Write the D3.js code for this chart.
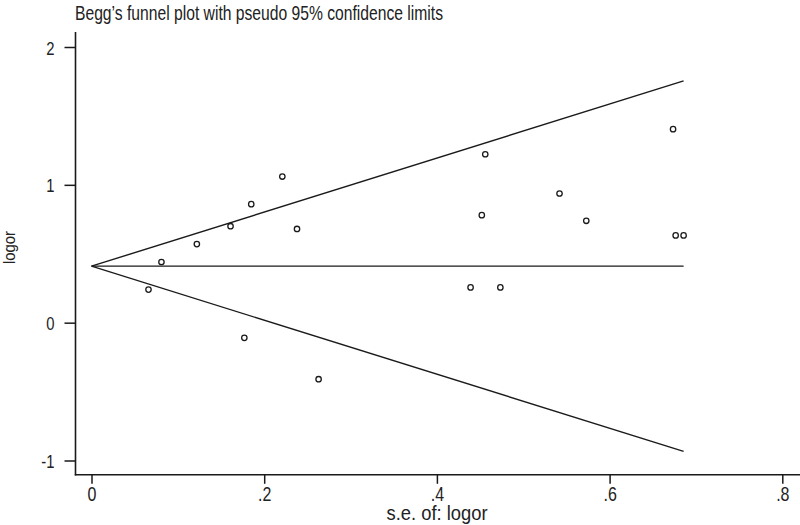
<!DOCTYPE html>
<html>
<head>
<meta charset="utf-8">
<script src="https://cdn.jsdelivr.net/npm/d3@7"></script>
<style>
  html, body { margin: 0; padding: 0; background: #fff; }
  svg { display: block; }
  text { font-family: "Liberation Sans", Arial, sans-serif; fill: #222; }
</style>
</head>
<body>
<svg id="chart" width="800" height="525"></svg>
<script>
// ---- data ----
const seLogor = [0.066, 0.081, 0.122, 0.161, 0.185, 0.221, 0.238, 0.177, 0.263,
                 0.439, 0.4735, 0.452, 0.456, 0.542, 0.573, 0.6735, 0.6765, 0.6857];
const logor   = [0.24, 0.44, 0.57, 0.70, 0.86, 1.06, 0.68, -0.11, -0.41,
                 0.256, 0.256, 0.78, 1.222, 0.937, 0.739, 1.404, 0.633, 0.633];
const pooledLogor = 0.41;
const xTicks = [0, 0.2, 0.4, 0.6, 0.8];
const xTickLabels = ["0", ".2", ".4", ".6", ".8"];
const yTicks = [-1, 0, 1, 2];
const yTickLabels = ["-1", "0", "1", "2"];
const titleText = "Begg\u2019s funnel plot with pseudo 95% confidence limits";
const xTitle = "s.e. of: logor";
const yTitle = "logor";

const svg = d3.select("#chart");
const x = d3.scaleLinear().domain([0, 0.8]).range([91.5, 782.3]);
const y = d3.scaleLinear().domain([-1, 2]).range([460.5, 47]);

const axisLeftX = 75.5, axisBottomY = 474.8;
const ink = "#1a1a1a";

// title
svg.append("text").attr("x", 75).attr("y", 20)
  .attr("font-size", 21).attr("textLength", 368).attr("lengthAdjust", "spacingAndGlyphs")
  .text(titleText);

// axis lines
svg.append("line").attr("x1", axisLeftX).attr("x2", axisLeftX).attr("y1", 32).attr("y2", axisBottomY + 0.7)
  .attr("stroke", ink).attr("stroke-width", 1.6);
svg.append("line").attr("x1", axisLeftX - 0.7).attr("x2", 800).attr("y1", axisBottomY).attr("y2", axisBottomY)
  .attr("stroke", ink).attr("stroke-width", 1.6);

// y axis via d3 axis
const yAxis = d3.axisLeft(y).tickValues(yTicks).tickSize(11).tickPadding(0)
  .tickFormat((d, i) => yTickLabels[i]);
const gy = svg.append("g").attr("transform", `translate(${axisLeftX},0)`).call(yAxis);
gy.select(".domain").remove();
gy.selectAll(".tick line").attr("stroke", ink).attr("stroke-width", 1.5);
gy.selectAll(".tick text").remove();
gy.selectAll(".tick").append("text")
  .attr("transform", "translate(-21,7) scale(0.78,1)")
  .attr("text-anchor", "end").attr("font-size", 19)
  .text((d, i) => yTickLabels[i]);

// x axis via d3 axis
const xAxis = d3.axisBottom(x).tickValues(xTicks).tickSize(9).tickPadding(0)
  .tickFormat((d, i) => xTickLabels[i]);
const gx = svg.append("g").attr("transform", `translate(0,${axisBottomY})`).call(xAxis);
gx.select(".domain").remove();
gx.selectAll(".tick line").attr("stroke", ink).attr("stroke-width", 1.5);
gx.selectAll(".tick text").remove();
gx.selectAll(".tick").append("text")
  .attr("transform", "translate(0,26.5) scale(0.78,1)")
  .attr("text-anchor", "middle").attr("font-size", 20.5)
  .text((d, i) => xTickLabels[i]);

// axis titles
svg.append("text").attr("x", 437).attr("y", 520).attr("text-anchor", "middle")
  .attr("font-size", 20).attr("textLength", 101).attr("lengthAdjust", "spacingAndGlyphs")
  .text(xTitle);
svg.append("text").attr("transform", "translate(15,247.5) rotate(-90)").attr("text-anchor", "middle")
  .attr("font-size", 16).attr("textLength", 33).attr("lengthAdjust", "spacingAndGlyphs")
  .text(yTitle);

// funnel lines (pooled estimate +/- 1.96 * se, from se = 0 to max se)
const maxSe = d3.max(seLogor);
const lineStyle = sel => sel.attr("stroke", ink).attr("stroke-width", 1.4).attr("fill", "none");
svg.append("line").call(lineStyle)
  .attr("x1", x(0)).attr("y1", y(pooledLogor)).attr("x2", x(maxSe)).attr("y2", y(pooledLogor));
svg.append("line").call(lineStyle)
  .attr("x1", x(0)).attr("y1", y(pooledLogor)).attr("x2", x(maxSe)).attr("y2", y(pooledLogor + 1.96 * maxSe));
svg.append("line").call(lineStyle)
  .attr("x1", x(0)).attr("y1", y(pooledLogor)).attr("x2", x(maxSe)).attr("y2", y(pooledLogor - 1.96 * maxSe));

// points
svg.append("g").selectAll("circle").data(seLogor.map((s, i) => [s, logor[i]]))
  .join("circle")
  .attr("cx", d => x(d[0])).attr("cy", d => y(d[1])).attr("r", 2.7)
  .attr("fill", "none").attr("stroke", ink).attr("stroke-width", 1.3);
</script>
</body>
</html>
